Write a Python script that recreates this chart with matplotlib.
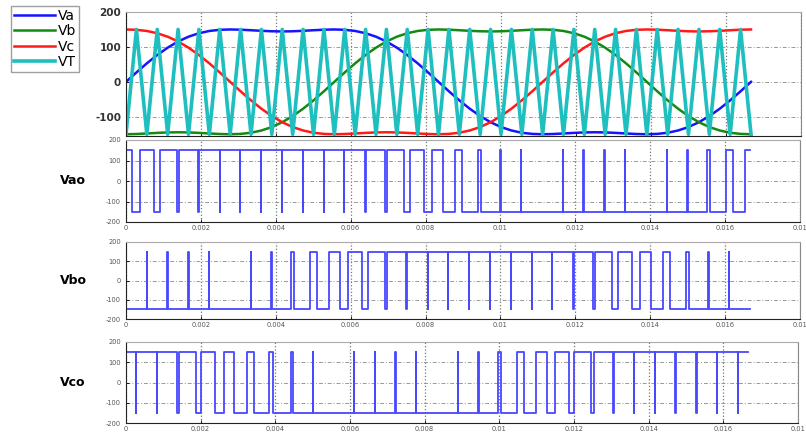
import numpy as np
import matplotlib
matplotlib.use("Agg")
import matplotlib.pyplot as plt

# reference waves, one sample every 6 degrees of a 60 Hz cycle
Va = [0, 27.0, 53.0, 76.9, 97.9, 115.5, 129.3, 139.2, 145.7, 149.0,
      150.0, 149.3, 147.8, 146.1, 144.8, 144.3, 144.8, 146.1, 147.8, 149.3,
      150.0, 149.0, 145.7, 139.2, 129.3, 115.5, 97.9, 76.9, 53.0, 27.0,
      0, -27.0, -53.0, -76.9, -97.9, -115.5, -129.3, -139.2, -145.7, -149.0,
      -150.0, -149.3, -147.8, -146.1, -144.8, -144.3, -144.8, -146.1, -147.8, -149.3,
      -150.0, -149.0, -145.7, -139.2, -129.3, -115.5, -97.9, -76.9, -53.0, -27.0, 0]
Vb = [-150.0, -149.3, -147.8, -146.1, -144.8, -144.3, -144.8, -146.1, -147.8, -149.3,
      -150.0, -149.0, -145.7, -139.2, -129.3, -115.5, -97.9, -76.9, -53.0, -27.0,
      0, 27.0, 53.0, 76.9, 97.9, 115.5, 129.3, 139.2, 145.7, 149.0,
      150.0, 149.3, 147.8, 146.1, 144.8, 144.3, 144.8, 146.1, 147.8, 149.3,
      150.0, 149.0, 145.7, 139.2, 129.3, 115.5, 97.9, 76.9, 53.0, 27.0,
      0, -27.0, -53.0, -76.9, -97.9, -115.5, -129.3, -139.2, -145.7, -149.0, -150.0]
Vc = [150.0, 149.0, 145.7, 139.2, 129.3, 115.5, 97.9, 76.9, 53.0, 27.0,
      0, -27.0, -53.0, -76.9, -97.9, -115.5, -129.3, -139.2, -145.7, -149.0,
      -150.0, -149.3, -147.8, -146.1, -144.8, -144.3, -144.8, -146.1, -147.8, -149.3,
      -150.0, -149.0, -145.7, -139.2, -129.3, -115.5, -97.9, -76.9, -53.0, -27.0,
      0, 27.0, 53.0, 76.9, 97.9, 115.5, 129.3, 139.2, 145.7, 149.0,
      150.0, 149.3, 147.8, 146.1, 144.8, 144.3, 144.8, 146.1, 147.8, 149.3, 150.0]
# triangular carrier vertices (30 periods per cycle), same time points
VT = [-150, 150] * 30 + [-150]
t_end = 1 / 60
t = np.linspace(0, t_end, len(Va))

x_ticks = [0, 0.002, 0.004, 0.006, 0.008, 0.01, 0.012, 0.014, 0.016, 0.018]
# last label is shown cut to "0.01" at the picture edge
x_labels = ["0", "0.002", "0.004", "0.006", "0.008", "0.01", "0.012", "0.014", "0.016", "0.01"]
y_ticks = [-200, -100, 0, 100, 200]


def pwm(ref, carrier):
    # switch where reference segment crosses the carrier segment
    d = np.array(ref) - np.array(carrier)
    hi = 150
    ts = [t[0]]
    vs = [hi if d[0] > 0 else -hi]
    for j in range(len(d) - 1):
        s0 = d[j] > 0
        s1 = d[j + 1] > 0
        if s0 != s1:
            tc = t[j] + (t[j + 1] - t[j]) * d[j] / (d[j] - d[j + 1])
            ts += [tc, tc]
            vs += [hi if s0 else -hi, hi if s1 else -hi]
    ts.append(t[-1])
    vs.append(vs[-1])
    return ts, vs


W, H = 806, 434
fig = plt.figure(figsize=(W / 100, H / 100), dpi=100)


def box(l, r, top, bot):
    return [l / W, 1 - bot / H, (r - l) / W, (bot - top) / H]


def style(ax):
    ax.set_xlim(0, 0.018)
    ax.set_xticks(x_ticks)
    ax.grid(True, axis="x", linestyle=":", color="#777777", lw=0.9)
    ax.grid(True, axis="y", linestyle=(0, (4, 2, 1, 2)), color="#999999", lw=0.7)
    ax.tick_params(direction="in", length=2, width=0.6)
    ax.spines["left"].set_color("#222222")
    ax.spines["bottom"].set_color("#222222")
    ax.spines["top"].set_color("#aaaaaa")
    ax.spines["right"].set_color("#888888")


# top panel
ax0 = fig.add_axes(box(126, 801, 12, 136))
style(ax0)
ax0.plot(t, Va, color="#1414ff", lw=1.8, label="Va")
ax0.plot(t, Vb, color="#138a13", lw=1.8, label="Vb")
ax0.plot(t, Vc, color="#ff1a1a", lw=1.8, label="Vc")
ax0.plot(t, VT, color="#1fbfbf", lw=2.6, label="VT")
ax0.set_ylim(-155, 200)
ax0.set_yticks([-100, 0, 100, 200])
ax0.set_yticklabels(["-100", "0", "100", "200"], fontsize=7.5,
                    fontweight="bold", color="#333333")
ax0.set_xticklabels([])
fig.legend(loc="upper left", bbox_to_anchor=(11 / W, 1 - 6 / H),
           fontsize=10, frameon=True, fancybox=False, edgecolor="#888888",
           handlelength=3.0, handletextpad=0.2, labelspacing=0.1,
           borderpad=0.2, borderaxespad=0)

# PWM panels
panels = [("Vao", Va, 140, 222, 800), ("Vbo", Vb, 242, 319, 800), ("Vco", Vc, 342, 423, 798)]
for name, ref, top, bot, right in panels:
    ax = fig.add_axes(box(126, right, top, bot))
    style(ax)
    ts, vs = pwm(ref, VT)
    ax.plot(ts, vs, color="#4848ff", lw=1.3)
    ax.set_ylim(-200, 200)
    ax.set_yticks(y_ticks)
    ax.set_yticklabels([str(v) for v in y_ticks], fontsize=4.8, color="#555555")
    ax.set_xticklabels(x_labels, fontsize=4.8, color="#555555")
    ax.tick_params(axis="x", pad=2)
    fig.text(73 / W, 1 - (top + bot) / 2 / H, name, fontsize=9,
             fontweight="bold", ha="center", va="center")

fig.savefig("out.png", dpi=100, facecolor="white")
